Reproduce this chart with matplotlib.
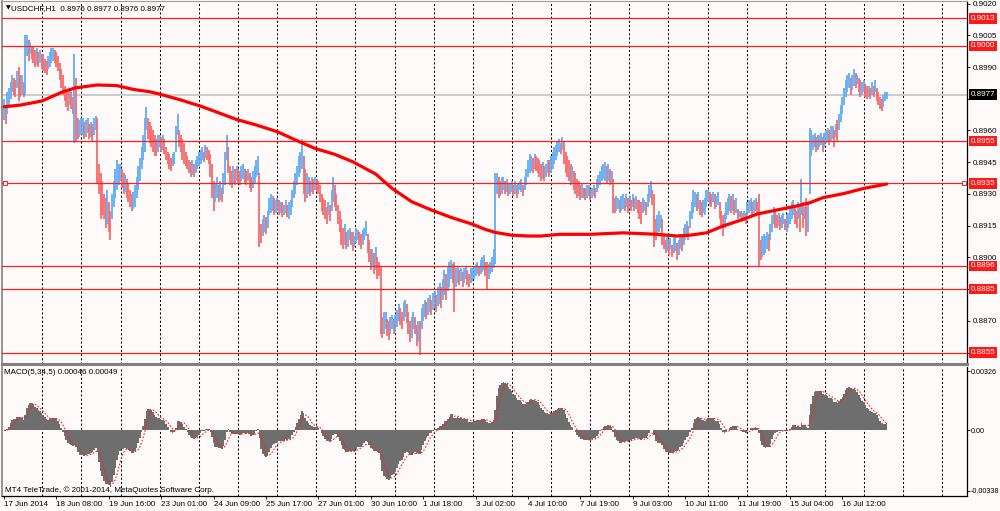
import numpy as np
import pandas as pd
import matplotlib
matplotlib.use("Agg")
import matplotlib.pyplot as plt
import matplotlib.transforms as mtransforms

plt.rcParams['font.family'] = ['Liberation Sans', 'DejaVu Sans']

# USDCHF H1 bars as (low, high) in pips above 0.8800
bars_part1 = [
    (165,175),(163,172),(168,178),(172,180),(175,183),(178,186),(177,185),(176,184),
    (180,188),(174,190),(176,186),(177,186),(176,183),(177,205),(195,205),(193,203),
    (196,202),(194,200),(192,200),(190,198),(191,199),(190,197),(192,198),(189,196),
    (188,196),(187,194),(186,193),(189,195),(190,197),(192,199),(193,199),(192,198),
    (190,197),(188,195),(184,192),(180,189),(177,186),(174,181),(171,179),(169,178),
    (172,180),(170,178),(168,176),(154,196),(155,185),(156,166),(157,165),(158,166),
    (158,166),(156,164),(157,165),(159,166),(156,163),(157,164),(155,163),(158,166),
    (160,167),(135,166),(130,144),(118,140),(120,136),(118,130),(114,128),(116,132),
    (112,126),(108,122),(118,130),(124,136),(128,142),(132,146),(134,144),(136,144),
]
bars_part2 = [
    (133,142),(130,140),(131,139),(128,137),(126,135),(124,132),(122,130),(123,131),
    (124,134),(128,138),(132,143),(136,147),(142,152),(146,158),(150,166),(160,171),
    (156,166),(154,164),(152,162),(150,160),(148,158),(148,156),(150,158),(152,158),
    (150,157),(151,158),(149,156),(146,152),(144,150),(142,149),(141,147),(143,149),
    (144,150),(150,162),(158,168),(152,160),(150,158),(146,156),(144,154),(143,150),
    (142,148),(140,146),(138,145),(139,146),(138,144),(140,146),(142,148),(143,150),
    (144,151),(146,152),(145,150),(147,153),(146,152),(144,151),(138,149),(128,144),
    (122,136),(126,135),(128,138),(126,134),(127,136),(126,133),(130,140),(134,150),
    (146,158),(140,152),(134,143),(133,141),(135,143),(134,142),(136,143),(135,142),
    (134,141),(136,143),(137,144),(135,142),(134,141),(136,142),(133,140),(131,138),
    (133,141),(135,143),(138,146),(139,148),(105,140),(107,116),(110,118),(112,120),
    (111,119),(114,122),(120,128),(121,130),(122,129),(120,128),(121,127),(122,128),
]
bars_part3 = [
    (120,127),(121,126),(119,126),(120,125),(121,127),(119,125),(118,126),(120,127),
    (124,132),(128,136),(130,140),(134,143),(138,148),(140,150),(142,156),(130,148),
    (126,142),(128,140),(130,138),(129,136),(131,138),(130,137),(132,138),(131,137),
    (130,136),(126,134),(122,130),(120,128),(118,127),(116,124),(120,126),(117,125),
    (122,132),(126,138),(124,134),(122,130),(116,125),(112,122),(106,118),(104,114),
    (106,116),(104,112),(105,113),(108,114),(106,112),(103,112),(105,110),(107,114),
    (108,113),(106,112),(104,111),(106,113),(108,114),(110,117),(102,111),(98,108),
    (94,104),(96,104),(92,102),(94,105),(90,100),(91,98),(64,96),
]
bars_part4 = [
    (62,72),(64,74),(66,74),(63,71),(61,70),(64,72),(66,73),(64,71),(65,73),(67,75),
    (70,78),(68,76),(66,74),(70,79),(72,80),(69,78),(64,74),(60,70),(62,72),(66,74),
    (64,72),(58,68),(60,70),(54,70),(66,76),(70,78),(72,80),(71,79),(73,81),(74,82),
    (73,80),(75,83),(76,84),(74,82),(77,86),(78,88),(76,86),(80,90),(82,94),(80,92),
    (84,96),(86,98),(90,99),(88,97),(74,98),(86,95),(88,96),(87,94),(89,95),(86,93),
    (88,95),(90,96),(87,94),(86,92),(88,95),(89,95),(90,96),(91,97),(92,98),(91,96),
    (92,99),(93,100),(94,101),(91,98),(85,98),(90,97),(92,98),(93,100),(95,104),(97,140),
    (130,140),(128,138),(129,136),(130,138),(132,138),(130,136),(131,137),(129,135),
    (130,135),(131,136),(129,134),(130,136),(128,134),(130,135),(132,136),(131,137),
    (129,134),(132,138),(134,142),(138,146),(140,149),(141,148),(140,147),(142,149),
    (141,148),(140,147),(138,146),(136,144),(137,145),(136,143),(138,144),(140,146),
    (138,146),(140,148),(142,150),(144,152),(146,153),(148,155),(150,156),(149,154),
    (151,157),(144,155),(140,150),(138,148),(136,146),(134,144),(135,143),(132,141),
    (130,140),(128,137),(129,136),(127,134),(128,135),(128,133),(127,133),(128,134),
    (129,134),(127,132),(128,133),(129,134),(128,133),
]
bars_part5 = [
    (131,137),(133,139),(134,141),(136,143),(137,144),(136,145),(135,143),(136,144),
    (134,142),(135,141),(121,137),(121,128),(122,129),(123,128),(121,127),(122,129),
    (123,130),(122,128),(124,130),(121,128),(123,129),(122,127),(124,130),(122,128),
    (123,129),(121,127),(118,127),(116,126),(121,128),(122,127),(120,126),(124,130),
    (126,134),(128,136),(125,132),(105,130),(108,118),(110,120),(112,122),(114,120),
    (106,118),(104,110),(102,108),(103,110),(101,108),(104,109),(100,106),(102,109),
    (103,110),(99,107),(101,108),(104,111),(103,110),(106,114),(108,116),(110,117),
    (108,115),(114,122),(118,126),(121,132),(124,131),(122,130),(123,131),(120,127),
    (119,126),(121,127),(120,128),(124,132),(126,132),(125,131),(124,130),(126,131),
    (123,130),(124,129),(125,131),(118,126),(114,122),(110,120),(114,121),(118,126),
    (120,128),(122,130),(121,129),(122,130),(120,127),(121,128),(118,123),(119,122),
    (117,122),(118,121),(117,122),(116,121),(120,126),(121,127),(122,128),(120,126),
    (121,127),(122,128),(120,126),(96,130),(99,108),(100,110),(101,111),(102,110),
    (104,112),(103,111),(108,116),(112,120),(116,124),(114,122),(114,120),(115,121),
    (113,119),(114,120),(116,121),(113,118),(112,120),(114,121),(116,124),(118,126),
    (120,127),(116,124),(114,122),(118,126),(112,124),(120,137),(114,126),(118,124),
    (110,128),(112,126),(130,161),(148,160),(151,158),(152,159),(150,157),(151,158),
    (152,158),(153,159),(150,157),(152,159),(154,160),(155,161),(153,160),(155,162),
    (156,162),(152,160),(157,163),(155,165),(160,168),(164,172),(168,176),(172,180),
    (176,184),(178,186),(180,187),(177,185),(179,186),(181,189),(180,187),(182,186),
    (178,185),(176,184),(177,183),(178,184),(176,182),(175,181),(176,181),(175,180),
    (177,183),(176,181),(178,184),(174,180),(172,178),(170,176),(169,175),(171,177),
    (174,178),(175,178),
]

# moving average (red line), bar index and pips above 0.8800
ma_idx = [0, 10, 23, 36, 44, 57, 69, 79, 89, 95, 108, 120, 132, 142, 154, 167,
          178, 190, 202, 213, 227, 237, 249, 261, 273, 286, 294, 300, 310, 320,
          328, 339, 358, 378, 399, 411, 419, 429, 439, 450, 460, 472, 484, 492,
          500, 513, 525, 539]
ma_val = [171.2, 172.0, 173.9, 178.3, 180.2, 181.5, 181.2, 179.4, 178.3, 177.2,
          174.4, 171.5, 168.1, 165.2, 162.6, 159.4, 155.5, 151.5, 148.7, 145.2,
          139.4, 132.6, 126.3, 122.4, 118.9, 115.7, 113.2, 111.8, 110.5, 110.1,
          110.1, 110.9, 110.9, 111.6, 110.9, 110.1, 110.5, 111.6, 114.8, 117.6,
          120.5, 122.4, 124.3, 125.8, 128.2, 130.2, 132.6, 134.7]

levels = [0.9013, 0.9000, 0.8955, 0.8935, 0.8896, 0.8885, 0.8855]
bid = 0.8977
price_ticks = [0.8855, 0.8870, 0.8885, 0.8900, 0.8915, 0.8930, 0.8945,
               0.8960, 0.8975, 0.8990, 0.9005, 0.9020]
hidden_ticks = [0.8855, 0.8885, 0.8975]
macd_ticks = [-0.00338, 0.0, 0.00326]
macd_ticklabels = ['-0.00338', '0.00', '0.00326']
time_labels = ["17 Jun 2014", "18 Jun 08:00", "19 Jun 16:00", "23 Jun 01:00",
               "24 Jun 09:00", "25 Jun 17:00", "27 Jun 01:00", "30 Jun 10:00",
               "1 Jul 18:00", "3 Jul 02:00", "4 Jul 10:00", "7 Jul 19:00",
               "9 Jul 03:00", "10 Jul 11:00", "11 Jul 19:00", "15 Jul 04:00",
               "16 Jul 12:00"]

BG = '#fffafa'
UP = '#62adf6'
DOWN = '#f66a6a'
FS = 5.8

hl = np.array(bars_part1 + bars_part2 + bars_part3 + bars_part4 + bars_part5, dtype=float)
lows = 0.88 + hl[:, 0] / 1e4
highs = 0.88 + hl[:, 1] / 1e4
n = len(hl)
idx = np.arange(n)
mid = (lows + highs) / 2
prev = np.r_[mid[0], mid[:-1]]
colors = [UP if m >= p else DOWN for m, p in zip(mid, prev)]

# MACD(5,34,5) on the bar prices
s = pd.Series(mid)
macd = (s.ewm(span=5, adjust=False).mean() - s.ewm(span=34, adjust=False).mean()).values
signal = pd.Series(macd).rolling(5, min_periods=1).mean().values

px_per_bar = 1.6375
x_left = -(4 - 2) / px_per_bar
x_right = x_left + 965 / px_per_bar
grid_x = np.arange(23.4, x_right, 23.9)

fig = plt.figure(figsize=(10, 5.11), dpi=100, facecolor=BG)
ax_p = fig.add_axes([0.002, (511 - 364) / 511, 0.965, 363 / 511], facecolor=BG)
ax_m = fig.add_axes([0.002, (511 - 495.5) / 511, 0.965, 128.5 / 511], facecolor=BG)

# ---- price panel
ax_p.set_xlim(x_left, x_right)
ax_p.set_ylim(0.88496, 0.90212)
for gx in grid_x:
    ax_p.axvline(gx, color='black', lw=0.75, ls=(0, (2, 2)), zorder=1)
    ax_m.axvline(gx, color='black', lw=0.75, ls=(0, (2, 2)), zorder=1)

ax_p.axhline(bid, color='#c8c8c8', lw=1.3, zorder=1.5)
ax_p.vlines(idx, lows, highs, colors=colors, lw=1.3, zorder=2)
for lvl in levels:
    ax_p.axhline(lvl, color='#ff1e1e', lw=0.9, zorder=3)
ax_p.plot(ma_idx, 0.88 + np.array(ma_val) / 1e4, color='#ff0000', lw=2.3,
          solid_capstyle='round', zorder=4)

trans = mtransforms.blended_transform_factory(ax_p.transAxes, ax_p.transData)
ax_p.plot([0.003, 0.997], [0.8935, 0.8935], transform=trans, ls='none', marker='s',
          ms=2.6, mfc=BG, mec='#ff1e1e', mew=0.7, clip_on=False, zorder=5)
for lvl in levels:
    ax_p.text(1.004, lvl, f"{lvl:.4f}", transform=trans, ha='left', va='center',
              color='white', fontsize=FS, clip_on=False,
              bbox=dict(boxstyle='square,pad=0.22', fc='#ff1a1a', ec='none'))
ax_p.text(1.004, bid, f"{bid:.4f}", transform=trans, ha='left', va='center',
          color='white', fontsize=FS, clip_on=False,
          bbox=dict(boxstyle='square,pad=0.22', fc='black', ec='none'))

ax_p.yaxis.tick_right()
ax_p.set_yticks(price_ticks)
ax_p.set_yticklabels(['' if t in hidden_ticks else f"{t:.4f}" for t in price_ticks])
ax_p.tick_params(axis='y', direction='out', length=2.2, width=0.6, pad=1.8,
                 labelsize=FS, colors='black')
ax_p.set_xticks([])
ax_p.spines['right'].set_color('black')
ax_p.spines['right'].set_linewidth(0.9)
ax_p.spines['left'].set_color('#8c8c8c')
ax_p.spines['left'].set_linewidth(1.3)
ax_p.spines['top'].set_color('#a0a0a0')
ax_p.spines['top'].set_linewidth(0.8)
ax_p.spines['bottom'].set_color('#808080')
ax_p.spines['bottom'].set_linewidth(2.2)

ax_p.text(0.0042, 0.980, "\u25bc", transform=ax_p.transAxes, fontsize=4.4,
          va='center', ha='left', family=['DejaVu Sans'])
ax_p.text(0.0096, 0.980, "USDCHF,H1  0.8976 0.8977 0.8976 0.8977",
          transform=ax_p.transAxes, fontsize=FS, va='center', ha='left')

# ---- MACD panel
ax_m.set_xlim(x_left, x_right)
ax_m.set_ylim(-0.003643, 0.003504)
ax_m.bar(idx, macd, width=1.0, color='#6e6e6e', linewidth=0, zorder=2)
ax_m.plot(idx, signal, color='#ff1e1e', lw=0.8, ls=(0, (1.5, 1.5)), zorder=3)

ax_m.yaxis.tick_right()
ax_m.set_yticks(macd_ticks)
ax_m.set_yticklabels(macd_ticklabels)
ax_m.tick_params(axis='y', direction='out', length=2.0, width=0.6, pad=0.8,
                 labelsize=5.2, colors='black')
ax_m.set_xticks(np.arange(len(time_labels)) * 32)
ax_m.set_xticklabels(time_labels, ha='left')
ax_m.tick_params(axis='x', direction='out', length=2.4, width=0.6, pad=1.5,
                 labelsize=FS, colors='black')
ax_m.spines['top'].set_visible(False)
ax_m.spines['right'].set_color('black')
ax_m.spines['right'].set_linewidth(0.9)
ax_m.spines['bottom'].set_color('black')
ax_m.spines['bottom'].set_linewidth(0.9)
ax_m.spines['left'].set_color('#8c8c8c')
ax_m.spines['left'].set_linewidth(1.3)

ax_m.text(0.002, 0.955, "MACD(5,34,5) 0.00046 0.00049", transform=ax_m.transAxes,
          fontsize=FS, va='center', ha='left')
ax_m.text(0.003, 0.043, "MT4 TeleTrade, \u00a9 2001-2014, MetaQuotes Software Corp.",
          transform=ax_m.transAxes, fontsize=FS, va='center', ha='left')

fig.savefig("out.png", dpi=100, facecolor=BG)
